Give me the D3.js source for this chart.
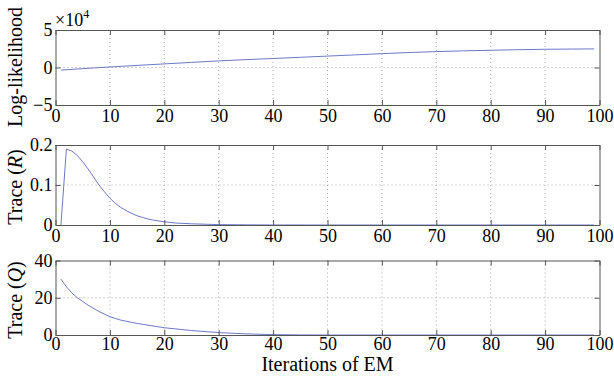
<!DOCTYPE html>
<html><head><meta charset="utf-8">
<script src="https://cdn.jsdelivr.net/npm/d3@7"></script>
<style>body{margin:0;background:#fff}svg{display:block}svg text{font-family:"Liberation Serif","Times New Roman",serif}</style>
</head><body><div id="chart"></div>
<script>
// ---- data ----
const xTicks = [0,10,20,30,40,50,60,70,80,90,100];
const llIter = [1,5,10,15,20,25,30,35,40,45,50,55,60,65,70,75,80,85,90,95,99];
const llVal  = [-0.35,-0.15,0.07,0.28,0.48,0.68,0.88,1.05,1.2,1.36,1.52,1.68,1.85,2.0,2.12,2.22,2.3,2.37,2.43,2.46,2.48]; // ×10^4
const llTicks = [-5,0,5];
const llTickLabels = ["\u22125","0","5"];
const rIter = [1,2,3,4,5,6,7,8,9,10,11,12,13,14,15,16,17,18,19,20,22,25,30,35,40,50,60,70,80,90,99];
const rVal  = [0,0.19,0.185,0.174,0.158,0.14,0.12,0.10,0.083,0.067,0.054,0.044,0.036,0.029,0.023,0.019,0.015,0.012,0.010,0.008,0.005,0.003,0.001,0.0004,0.0001,0,0,0,0,0,0];
const rTicks = [0,0.1,0.2];
const rTickLabels = ["0","0.1","0.2"];
const qIter = [1,2,3,4,5,6,8,10,12,15,20,25,30,35,40,45,50,60,70,80,90,99];
const qVal  = [30,25.9,22.6,20,18,16,12.6,9.8,8,6.2,3.9,2.4,1.3,0.6,0.2,0.05,0,0,0,0,0,0];
const qTicks = [0,20,40];
const qTickLabels = ["0","20","40"];

const W = 614, H = 377;
const left = 55.5, right = 599.5;
const font = "Liberation Serif";
const frameColor = "#555";
const lineColor = "#6b7ac9";

const svg = d3.select("#chart").append("svg").attr("width", W).attr("height", H)
  .attr("font-family", font);

const x = d3.scaleLinear().domain([0,100]).range([left, right]);

function panel(top, bottom, domain, ticks, tickLabels, iters, vals, ylabelParts, yLabelCenter, xPad) {
  const y = d3.scaleLinear().domain(domain).range([bottom, top]);
  const g = svg.append("g");
  // grid
  const gridX = xTicks.filter(t => t > 0 && t < 100);
  g.selectAll(".gx").data(gridX).enter().append("line")
    .attr("x1", d => x(d)).attr("x2", d => x(d)).attr("y1", top).attr("y2", bottom)
    .attr("stroke", "#aaa").attr("stroke-width", 1).attr("stroke-dasharray", "1,3");
  const gridY = ticks.filter(t => t > domain[0] && t < domain[1]);
  g.selectAll(".gy").data(gridY).enter().append("line")
    .attr("x1", left).attr("x2", right).attr("y1", d => y(d)).attr("y2", d => y(d))
    .attr("stroke", "#aaa").attr("stroke-width", 1).attr("stroke-dasharray", "1,3");
  // line
  const line = d3.line().x((d,i) => x(iters[i])).y(d => y(d));
  g.append("path").datum(vals).attr("d", line).attr("fill", "none")
    .attr("stroke", lineColor).attr("stroke-width", 1);
  // axes (ticks inward)
  const ax = d3.axisBottom(x).tickValues(xTicks).tickSizeInner(-5).tickSizeOuter(0).tickPadding(xPad);
  const gb = g.append("g").attr("transform", `translate(0,${bottom})`).call(ax);
  const at = d3.axisTop(x).tickValues(xTicks).tickSizeInner(-5).tickSizeOuter(0).tickFormat("");
  const gt = g.append("g").attr("transform", `translate(0,${top})`).call(at);
  const ay = d3.axisLeft(y).tickValues(ticks).tickSizeInner(-5).tickSizeOuter(0).tickPadding(3)
    .tickFormat((d,i) => tickLabels[i]);
  const gl = g.append("g").attr("transform", `translate(${left},0)`).call(ay);
  const ar = d3.axisRight(y).tickValues(ticks).tickSizeInner(-5).tickSizeOuter(0).tickFormat("");
  const gr = g.append("g").attr("transform", `translate(${right},0)`).call(ar);
  [gb,gt,gl,gr].forEach(a => {
    a.attr("font-family", font).attr("font-size", 18);
    a.select(".domain").attr("stroke", frameColor);
    a.selectAll(".tick line").attr("stroke", frameColor);
    a.selectAll("text").attr("font-family", font).attr("font-size", 18).attr("fill", "#000");
  });
  // y label
  const t = svg.append("text").attr("transform", `translate(${yLabelCenter[0]},${yLabelCenter[1]}) rotate(-90)`)
    .attr("text-anchor", "middle").attr("font-family", font).attr("font-size", 20).attr("fill", "#000");
  ylabelParts.forEach(p => t.append("tspan").text(p[0]).attr("font-style", p[1] ? "italic" : "normal"));
  return y;
}

panel(30, 105, [-5,5], llTicks, llTickLabels, llIter, llVal, [["Log-likelihood",false]], [22, 67], 4);
panel(145, 225, [0,0.2], rTicks, rTickLabels, rIter, rVal, [["Trace (",false],["R",true],[")",false]], [22, 187], 4);
panel(260.5, 335, [0,40], qTicks, qTickLabels, qIter, qVal, [["Trace (",false],["Q",true],[")",false]], [22, 300], 2);

// exponent
const ex = svg.append("text").attr("x", 55).attr("y", 26).attr("font-family", font).attr("font-size", 18).attr("fill", "#000");
ex.append("tspan").text("\u00d710");
ex.append("tspan").text("4").attr("font-size", 12).attr("dy", -8);

// x label
svg.append("text").attr("x", (left+right)/2).attr("y", 371).attr("text-anchor", "middle")
  .attr("font-family", font).attr("font-size", 20).attr("fill", "#000").text("Iterations of EM");
</script></body></html>
